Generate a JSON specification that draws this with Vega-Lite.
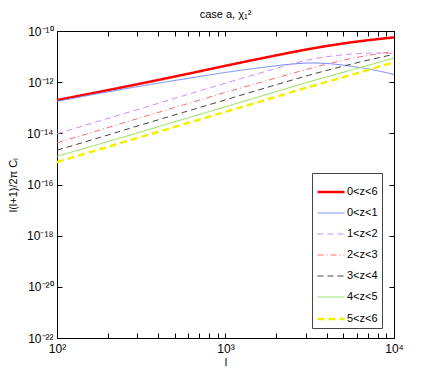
{
  "$schema": "https://vega.github.io/schema/vega-lite/v6.json",
  "autosize": {"type": "none"},
  "width": 337,
  "height": 307,
  "padding": {"left": 57, "top": 31, "right": 42, "bottom": 44},
  "title": {"text": "case a,  χ₁²", "fontSize": 11, "fontWeight": "normal", "font": "Liberation Sans", "anchor": "middle", "offset": 5, "color": "#000"},
  "config": {
    "font": "Liberation Sans",
    "view": {"stroke": "#000", "strokeWidth": 1},
    "axis": {"grid": false, "domainColor": "#000", "tickColor": "#000", "labelColor": "#000", "titleColor": "#000", "labelFontSize": 12, "titleFontSize": 11, "titleFontWeight": "normal", "tickSize": -5, "labelFont": "Liberation Sans", "titleFont": "Liberation Sans"},
    "legend": {"labelFontSize": 11, "labelFont": "Liberation Sans", "labelColor": "#000"}
  },
  "data": {"values": [
    {"l": 100, "v": 1.995e-13, "s": "0<z<6"},
    {"l": 177.8, "v": 4.169e-13, "s": "0<z<6"},
    {"l": 316.2, "v": 8.913e-13, "s": "0<z<6"},
    {"l": 562.3, "v": 1.950e-12, "s": "0<z<6"},
    {"l": 1000, "v": 4.365e-12, "s": "0<z<6"},
    {"l": 1778, "v": 9.550e-12, "s": "0<z<6"},
    {"l": 3162, "v": 1.995e-11, "s": "0<z<6"},
    {"l": 5623, "v": 3.631e-11, "s": "0<z<6"},
    {"l": 10000, "v": 5.623e-11, "s": "0<z<6"},
    {"l": 100, "v": 1.778e-13, "s": "0<z<1"},
    {"l": 177.8, "v": 3.631e-13, "s": "0<z<1"},
    {"l": 316.2, "v": 7.079e-13, "s": "0<z<1"},
    {"l": 562.3, "v": 1.318e-12, "s": "0<z<1"},
    {"l": 1000, "v": 2.399e-12, "s": "0<z<1"},
    {"l": 1778, "v": 3.981e-12, "s": "0<z<1"},
    {"l": 2512, "v": 5.129e-12, "s": "0<z<1"},
    {"l": 3162, "v": 5.623e-12, "s": "0<z<1"},
    {"l": 3981, "v": 5.370e-12, "s": "0<z<1"},
    {"l": 5623, "v": 4.169e-12, "s": "0<z<1"},
    {"l": 7943, "v": 2.818e-12, "s": "0<z<1"},
    {"l": 10000, "v": 1.995e-12, "s": "0<z<1"},
    {"l": 100, "v": 9.550e-15, "s": "1<z<2"},
    {"l": 177.8, "v": 3.020e-14, "s": "1<z<2"},
    {"l": 316.2, "v": 9.333e-14, "s": "1<z<2"},
    {"l": 562.3, "v": 2.951e-13, "s": "1<z<2"},
    {"l": 1000, "v": 9.120e-13, "s": "1<z<2"},
    {"l": 1778, "v": 2.754e-12, "s": "1<z<2"},
    {"l": 3162, "v": 7.586e-12, "s": "1<z<2"},
    {"l": 5623, "v": 1.259e-11, "s": "1<z<2"},
    {"l": 7943, "v": 1.380e-11, "s": "1<z<2"},
    {"l": 10000, "v": 1.318e-11, "s": "1<z<2"},
    {"l": 100, "v": 4.266e-15, "s": "2<z<3"},
    {"l": 177.8, "v": 1.318e-14, "s": "2<z<3"},
    {"l": 316.2, "v": 4.169e-14, "s": "2<z<3"},
    {"l": 562.3, "v": 1.288e-13, "s": "2<z<3"},
    {"l": 1000, "v": 3.981e-13, "s": "2<z<3"},
    {"l": 1778, "v": 1.175e-12, "s": "2<z<3"},
    {"l": 3162, "v": 3.388e-12, "s": "2<z<3"},
    {"l": 5623, "v": 8.511e-12, "s": "2<z<3"},
    {"l": 10000, "v": 1.585e-11, "s": "2<z<3"},
    {"l": 100, "v": 2.188e-15, "s": "3<z<4"},
    {"l": 177.8, "v": 6.761e-15, "s": "3<z<4"},
    {"l": 316.2, "v": 2.138e-14, "s": "3<z<4"},
    {"l": 562.3, "v": 6.607e-14, "s": "3<z<4"},
    {"l": 1000, "v": 2.042e-13, "s": "3<z<4"},
    {"l": 1778, "v": 6.310e-13, "s": "3<z<4"},
    {"l": 3162, "v": 1.905e-12, "s": "3<z<4"},
    {"l": 5623, "v": 5.129e-12, "s": "3<z<4"},
    {"l": 10000, "v": 1.230e-11, "s": "3<z<4"},
    {"l": 100, "v": 1.259e-15, "s": "4<z<5"},
    {"l": 177.8, "v": 3.802e-15, "s": "4<z<5"},
    {"l": 316.2, "v": 1.148e-14, "s": "4<z<5"},
    {"l": 562.3, "v": 3.548e-14, "s": "4<z<5"},
    {"l": 1000, "v": 1.096e-13, "s": "4<z<5"},
    {"l": 1778, "v": 3.388e-13, "s": "4<z<5"},
    {"l": 3162, "v": 1.047e-12, "s": "4<z<5"},
    {"l": 5623, "v": 3.020e-12, "s": "4<z<5"},
    {"l": 10000, "v": 8.710e-12, "s": "4<z<5"},
    {"l": 100, "v": 7.586e-16, "s": "5<z<6"},
    {"l": 177.8, "v": 2.344e-15, "s": "5<z<6"},
    {"l": 316.2, "v": 7.244e-15, "s": "5<z<6"},
    {"l": 562.3, "v": 2.239e-14, "s": "5<z<6"},
    {"l": 1000, "v": 6.918e-14, "s": "5<z<6"},
    {"l": 1778, "v": 2.138e-13, "s": "5<z<6"},
    {"l": 3162, "v": 6.607e-13, "s": "5<z<6"},
    {"l": 5623, "v": 1.950e-12, "s": "5<z<6"},
    {"l": 10000, "v": 6.026e-12, "s": "5<z<6"}
  ]},
  "layer": [
    {
      "mark": {"type": "line", "interpolate": "monotone"},
      "encoding": {
        "x": {"field": "l", "type": "quantitative", "scale": {"type": "log", "domain": [100, 10000], "nice": false},
          "axis": {"title": "l", "values": [100, 200, 300, 400, 500, 600, 700, 800, 900, 1000, 2000, 3000, 4000, 5000, 6000, 7000, 8000, 9000, 10000],
            "labelExpr": "datum.value == 100 ? '10²' : datum.value == 1000 ? '10³' : datum.value == 10000 ? '10⁴' : ''", "labelPadding": 10, "titlePadding": 2, "labelFlush": false}},
        "y": {"field": "v", "type": "quantitative", "scale": {"type": "log", "domain": [1e-22, 1e-10], "nice": false},
          "axis": {"title": "l(l+1)/2π Cₗ", "values": [1e-22, 1e-20, 1e-18, 1e-16, 1e-14, 1e-12, 1e-10],
            "labelExpr": "['10⁻²²','','10⁻²⁰','','10⁻¹⁸','','10⁻¹⁶','','10⁻¹⁴','','10⁻¹²','','10⁻¹⁰'][round(log(datum.value)/LN10)+22]", "labelPadding": 9, "titlePadding": 8, "labelFlush": false}},
        "color": {"field": "s", "type": "nominal", "title": null,
          "scale": {"domain": ["0<z<6", "0<z<1", "1<z<2", "2<z<3", "3<z<4", "4<z<5", "5<z<6"],
            "range": ["#ff0000", "#6f86f5", "#d08cff", "#ff6a6a", "#444444", "#8de050", "#f2f200"]},
          "legend": {"orient": "none", "legendX": 255, "legendY": 142, "strokeColor": "#444", "fillColor": "#fff", "padding": 4, "symbolType": "stroke", "symbolSize": 729, "rowPadding": 2, "columnPadding": 0, "labelOffset": 1}},
        "strokeDash": {"field": "s", "type": "nominal", "title": null,
          "scale": {"domain": ["0<z<6", "0<z<1", "1<z<2", "2<z<3", "3<z<4", "4<z<5", "5<z<6"],
            "range": [[1, 0], [1, 0], [6, 4], [6, 3, 1, 3], [6, 4], [1, 0], [7, 4]]}},
        "strokeWidth": {"field": "s", "type": "nominal", "title": null,
          "scale": {"type": "ordinal", "domain": ["0<z<6", "0<z<1", "1<z<2", "2<z<3", "3<z<4", "4<z<5", "5<z<6"],
            "range": [2.5, 1, 1, 1, 1, 1, 2.5]}}
      }
    },
    {
      "mark": {"type": "line", "opacity": 0},
      "encoding": {
        "x": {"field": "l", "type": "quantitative", "scale": {"type": "log", "domain": [100, 10000], "nice": false},
          "axis": {"orient": "top", "title": null, "labels": false, "values": [100, 200, 300, 400, 500, 600, 700, 800, 900, 1000, 2000, 3000, 4000, 5000, 6000, 7000, 8000, 9000, 10000]}},
        "y": {"field": "v", "type": "quantitative", "scale": {"type": "log", "domain": [1e-22, 1e-10], "nice": false},
          "axis": {"orient": "right", "title": null, "labels": false, "values": [1e-22, 1e-20, 1e-18, 1e-16, 1e-14, 1e-12, 1e-10]}},
        "detail": {"field": "s", "type": "nominal"}
      }
    }
  ],
  "resolve": {"axis": {"x": "independent", "y": "independent"}}
}
